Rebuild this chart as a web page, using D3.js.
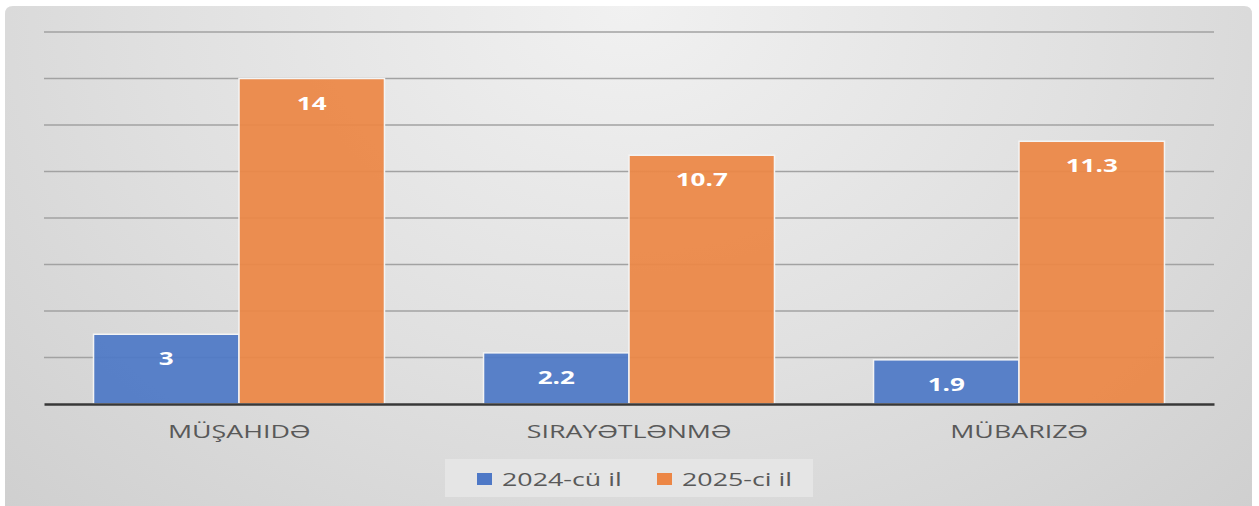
<!DOCTYPE html>
<html>
<head>
<meta charset="utf-8">
<script src="https://cdn.jsdelivr.net/npm/d3@7"></script>
<style>
  body { margin: 0; background: #fff; }
  text { font-family: "Open Sans", sans-serif; }
</style>
</head>
<body>
<div id="chart"></div>
<script>
// data
const categories = ["MÜŞAHIDƏ", "SIRAYƏTLƏNMƏ", "MÜBARIZƏ"];
const seriesNames = ["2024-cü il", "2025-ci il"];
const values2024 = [3, 2.2, 1.9];
const values2025 = [14, 10.7, 11.3];
const yTicks = [0, 2, 4, 6, 8, 10, 12, 14, 16];

const colors = ["#4e78c6", "#ec8645"];
const stretch = 1.45; // source image is stretched horizontally

const width = 1259, height = 506;
const margin = {top: 32, right: 45, bottom: 102, left: 44};

const svg = d3.select("#chart").append("svg")
    .attr("width", width)
    .attr("height", height);

// background gradient
const defs = svg.append("defs");
const grad = defs.append("radialGradient")
    .attr("id", "bg")
    .attr("cx", "50%").attr("cy", "0%")
    .attr("r", "95%").attr("fx", "50%").attr("fy", "0%")
    .attr("gradientTransform", "translate(0.5,0) scale(1,2.0) translate(-0.5,0)");
grad.append("stop").attr("offset", "0%").attr("stop-color", "#f1f1f1");
grad.append("stop").attr("offset", "40%").attr("stop-color", "#e0e0e0");
grad.append("stop").attr("offset", "100%").attr("stop-color", "#c3c3c3");

svg.append("path")
    .attr("d", "M5,14 Q5,6 13,6 L1244,6 Q1252,6 1252,14 L1252,506 L5,506 Z")
    .attr("fill", "url(#bg)");

// scales
const x0 = d3.scaleBand()
    .domain(categories)
    .range([margin.left, width - margin.right])
    .paddingInner(0.254)
    .paddingOuter(0.127);

const x1 = d3.scaleBand()
    .domain(seriesNames)
    .range([0, x0.bandwidth()]);

const y = d3.scaleLinear()
    .domain([0, 16])
    .range([height - margin.bottom, margin.top]);

// gridlines
svg.append("g")
    .selectAll("line")
    .data(yTicks.slice(1))
    .join("line")
    .attr("x1", margin.left)
    .attr("x2", width - margin.right)
    .attr("y1", d => y(d))
    .attr("y2", d => y(d))
    .attr("stroke", "#a2a2a2")
    .attr("stroke-width", 1.5);

// bars
const rows = categories.map((c, i) => ({cat: c, vals: [values2024[i], values2025[i]]}));

const groups = svg.append("g")
    .selectAll("g")
    .data(rows)
    .join("g")
    .attr("transform", d => `translate(${x0(d.cat)},0)`);

const cells = groups.selectAll("g")
    .data(d => d.vals.map((v, j) => ({key: seriesNames[j], v, j})))
    .join("g");

cells.append("rect")
    .attr("x", d => x1(d.key))
    .attr("y", d => y(d.v))
    .attr("width", x1.bandwidth())
    .attr("height", d => y(0) - y(d.v))
    .attr("fill", d => colors[d.j])
    .attr("fill-opacity", 0.93)
    .attr("stroke", "#f4f4f4")
    .attr("stroke-width", 1.5);

cells.append("text")
    .attr("transform", d => `translate(${x1(d.key) + x1.bandwidth() / 2},${y(d.v) + 31}) scale(${stretch},1)`)
    .attr("text-anchor", "middle")
    .attr("font-size", 18)
    .attr("font-weight", 700)
    .attr("fill", "#fff")
    .text(d => d.v);

// x axis
const xAxis = svg.append("g")
    .attr("transform", `translate(0,${y(0)})`)
    .call(d3.axisBottom(x0).tickSize(0).tickPadding(0));
xAxis.select(".domain")
    .attr("stroke", "#383838")
    .attr("stroke-width", 2.6);
xAxis.selectAll(".tick text")
    .attr("y", 0)
    .attr("dy", 0)
    .attr("transform", `translate(0,34) scale(${stretch},1)`)
    .attr("font-size", 18.5)
    .attr("font-family", "'Open Sans', sans-serif")
    .attr("fill", "#595959");

// legend
svg.append("rect")
    .attr("x", 445).attr("y", 459)
    .attr("width", 368).attr("height", 38)
    .attr("fill", "#e5e5e5");

const legendX = [477, 657];
const legend = svg.append("g")
    .selectAll("g")
    .data(seriesNames)
    .join("g")
    .attr("transform", (d, i) => `translate(${legendX[i]},0)`);

legend.append("rect")
    .attr("x", 0).attr("y", 473)
    .attr("width", 15).attr("height", 12)
    .attr("fill", (d, i) => colors[i]);

legend.append("text")
    .attr("transform", `translate(25,485.5) scale(${stretch},1)`)
    .attr("font-size", 18.5)
    .attr("fill", "#595959")
    .text(d => d);
</script>
</body>
</html>
